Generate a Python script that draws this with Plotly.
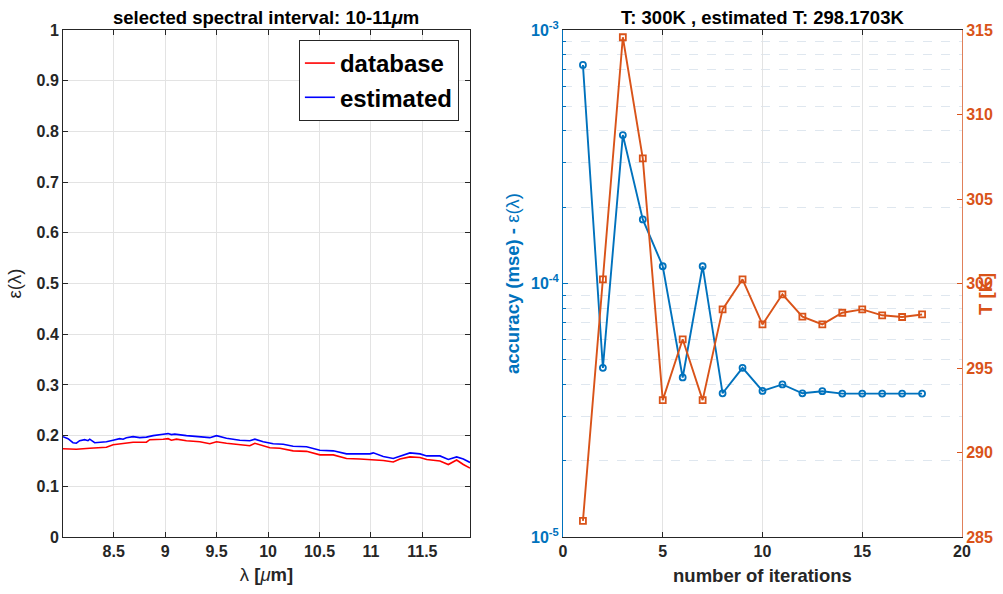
import plotly.graph_objects as go

# ---------------- data ----------------
wl = [8.007, 8.137, 8.267, 8.429, 8.494, 8.591, 8.688, 8.818, 8.850, 8.980,
      9.028, 9.061, 9.110, 9.207, 9.337, 9.434, 9.499, 9.596, 9.726, 9.823,
      9.872, 9.937, 10.018, 10.115, 10.244, 10.374, 10.504, 10.634, 10.763, 10.893,
      11.023, 11.120, 11.217, 11.282, 11.379, 11.477, 11.542, 11.671, 11.752, 11.833,
      11.898, 11.963]
eps_database = [0.174, 0.173, 0.175, 0.177, 0.182, 0.185, 0.187, 0.187, 0.192, 0.193,
                0.194, 0.191, 0.193, 0.190, 0.188, 0.184, 0.188, 0.185, 0.182, 0.180,
                0.185, 0.181, 0.176, 0.175, 0.170, 0.169, 0.162, 0.162, 0.155, 0.154,
                0.153, 0.151, 0.148, 0.154, 0.158, 0.157, 0.153, 0.150, 0.143, 0.152,
                0.143, 0.136]

wl_est = [8.007, 8.056, 8.104, 8.137, 8.169, 8.218, 8.250, 8.267, 8.315, 8.364,
          8.429, 8.494, 8.558, 8.591, 8.623, 8.688, 8.753, 8.818, 8.883, 8.980,
          9.028, 9.061, 9.093, 9.207, 9.337, 9.434, 9.499, 9.596, 9.726, 9.823,
          9.872, 9.953, 10.050, 10.147, 10.244, 10.374, 10.504, 10.634, 10.763, 10.893,
          10.990, 11.023, 11.120, 11.217, 11.282, 11.379, 11.477, 11.542, 11.671, 11.752,
          11.833, 11.898, 11.963]
eps_estimated = [0.198, 0.194, 0.186, 0.185, 0.190, 0.192, 0.190, 0.193, 0.186, 0.187,
                 0.188, 0.191, 0.194, 0.193, 0.196, 0.198, 0.196, 0.197, 0.200, 0.2026,
                 0.204, 0.202, 0.203, 0.200, 0.198, 0.196, 0.200, 0.195, 0.191, 0.190,
                 0.193, 0.188, 0.184, 0.183, 0.179, 0.178, 0.171, 0.170, 0.164, 0.164,
                 0.164, 0.166, 0.159, 0.155, 0.160, 0.166, 0.164, 0.160, 0.160, 0.153,
                 0.158, 0.154, 0.147]

iterations = list(range(1, 19))
accuracy_mse = [7.28e-4, 4.65e-5, 3.85e-4, 1.79e-4, 1.17e-4, 4.26e-5, 1.17e-4, 3.69e-5, 4.65e-5,
                3.77e-5, 4.00e-5, 3.69e-5, 3.76e-5, 3.68e-5, 3.68e-5, 3.68e-5, 3.68e-5, 3.68e-5]
temperature = [285.96, 300.25, 314.57, 307.4, 293.1, 296.7, 293.1, 298.47, 300.25,
               297.58, 299.36, 298.04, 297.58, 298.27, 298.47, 298.12, 298.02, 298.17]

left_xticks = [8.5, 9, 9.5, 10, 10.5, 11, 11.5]
left_yticks = [0, 0.1, 0.2, 0.3, 0.4, 0.5, 0.6, 0.7, 0.8, 0.9, 1]
right_xticks = [0, 5, 10, 15, 20]
log_ticks = [1e-5, 1e-4, 1e-3]
log_ticktext = ["10<sup>-5</sup>", "10<sup>-4</sup>", "10<sup>-3</sup>"]
log_minor = [m * 10 ** e for e in (-5, -4) for m in range(2, 10)]
t_ticks = [285, 290, 295, 300, 305, 310, 315]

# ---------------- style ----------------
FONT = "Liberation Sans"
DARK = "#262626"
BLUE = "#0072BD"
ORANGE = "#D95319"
GRID = "#e3e3e3"
TICK = 16
LAB = 18.5

fig = go.Figure()

fig.add_trace(go.Scatter(x=wl, y=eps_database, mode="lines", name="database",
                         line=dict(color="#FF0000", width=1.6), xaxis="x", yaxis="y"))
fig.add_trace(go.Scatter(x=wl_est, y=eps_estimated, mode="lines", name="estimated",
                         line=dict(color="#0000FF", width=1.6), xaxis="x", yaxis="y"))

fig.add_trace(go.Scatter(x=iterations, y=accuracy_mse, mode="lines+markers", showlegend=False,
                         line=dict(color=BLUE, width=1.9),
                         marker=dict(symbol="circle-open", size=6, color=BLUE, line=dict(width=1.8)),
                         xaxis="x2", yaxis="y2"))
fig.add_trace(go.Scatter(x=iterations, y=temperature, mode="lines+markers", showlegend=False,
                         line=dict(color=ORANGE, width=1.9),
                         marker=dict(symbol="square-open", size=6, color=ORANGE, line=dict(width=1.8)),
                         xaxis="x2", yaxis="y3"))

tickfont = dict(family=FONT, size=TICK, color=DARK, weight="bold")

ax_common = dict(showline=True, linecolor=DARK, linewidth=1, ticks="inside", ticklen=5,
                 tickcolor=DARK, showgrid=True, gridcolor=GRID, gridwidth=1, zeroline=False,
                 tickfont=tickfont, automargin=False)

fig.update_layout(
    width=1003, height=594,
    margin=dict(l=0, r=0, t=0, b=0, autoexpand=False),
    paper_bgcolor="white", plot_bgcolor="white",
    font=dict(family=FONT, color=DARK),
    showlegend=True,
    legend=dict(x=0.298, y=0.9327, xanchor="left", yanchor="top",
                bordercolor=DARK, borderwidth=1, bgcolor="white",
                font=dict(family=FONT, size=24, color="black", weight="bold"),
                itemwidth=30, tracegroupgap=0),
    xaxis=dict(domain=[0.0628, 0.4686], range=[8.007, 11.963], tickvals=left_xticks,
               ticktext=[f"{v:g}" for v in left_xticks], mirror="ticks", anchor="y",
               title=dict(text="λ <b>[</b><i>μ</i><b>m]</b>", font=dict(family=FONT, size=LAB, color=DARK),
                          standoff=8),
               **ax_common),
    yaxis=dict(domain=[0.0959, 0.9495], range=[0, 1], tickvals=left_yticks,
               ticktext=[f"{v:g}" for v in left_yticks], mirror="ticks", anchor="x",
               title=dict(text="ε(λ)", font=dict(family=FONT, size=LAB, color=DARK), standoff=10),
               **ax_common),
    xaxis2=dict(domain=[0.5613, 0.9591], range=[0, 20], tickvals=right_xticks, mirror="ticks",
                anchor="y2",
                title=dict(text="number of iterations",
                           font=dict(family=FONT, size=LAB, color=DARK, weight="bold"), standoff=9),
                **ax_common),
    yaxis2=dict(domain=[0.0959, 0.9495], type="log", range=[-5, -3], tickvals=log_ticks,
                ticktext=log_ticktext, anchor="x2", side="left", automargin=False,
                showline=True, linecolor=BLUE, linewidth=1, ticks="inside", ticklen=5,
                tickcolor=BLUE, showgrid=True, gridcolor=GRID, zeroline=False,
                tickfont=dict(family=FONT, size=TICK, color=BLUE, weight="bold"),
                minor=dict(tickvals=log_minor, ticks="inside", ticklen=3, tickcolor=BLUE,
                           showgrid=True, gridcolor="#dfe7ef", griddash="dash", gridwidth=1),
                title=dict(text="<b>accuracy (mse) - </b>ε(λ)",
                           font=dict(family=FONT, size=LAB, color=BLUE), standoff=6)),
    yaxis3=dict(domain=[0.0959, 0.9495], range=[285, 315], tickvals=t_ticks, overlaying="y2",
                anchor="x2", side="right", showline=True, linecolor="#E0805A", linewidth=1,
                ticks="inside", ticklen=5, tickcolor=ORANGE, showgrid=False, zeroline=False,
                automargin=False,
                tickfont=dict(family=FONT, size=TICK, color=ORANGE, weight="bold")),
    annotations=[
        dict(text="selected spectral interval: 10-11<i>μ</i>m", x=0.2657, y=0.9495, xref="paper",
             yref="paper", xanchor="center", yanchor="bottom", showarrow=False, yshift=0,
             font=dict(family=FONT, size=18.5, color="black", weight="bold")),
        dict(text="T: 300K , estimated T: 298.1703K", x=0.7602, y=0.9495, xref="paper",
             yref="paper", xanchor="center", yanchor="bottom", showarrow=False, yshift=0,
             font=dict(family=FONT, size=18.5, color="black", weight="bold")),
        dict(text="T [K]", x=0.982, y=0.505, xref="paper", yref="paper", xanchor="center",
             yanchor="middle", textangle=-90, showarrow=False,
             font=dict(family=FONT, size=LAB, color=ORANGE, weight="bold")),
    ],
)

fig.write_html("out.html")
